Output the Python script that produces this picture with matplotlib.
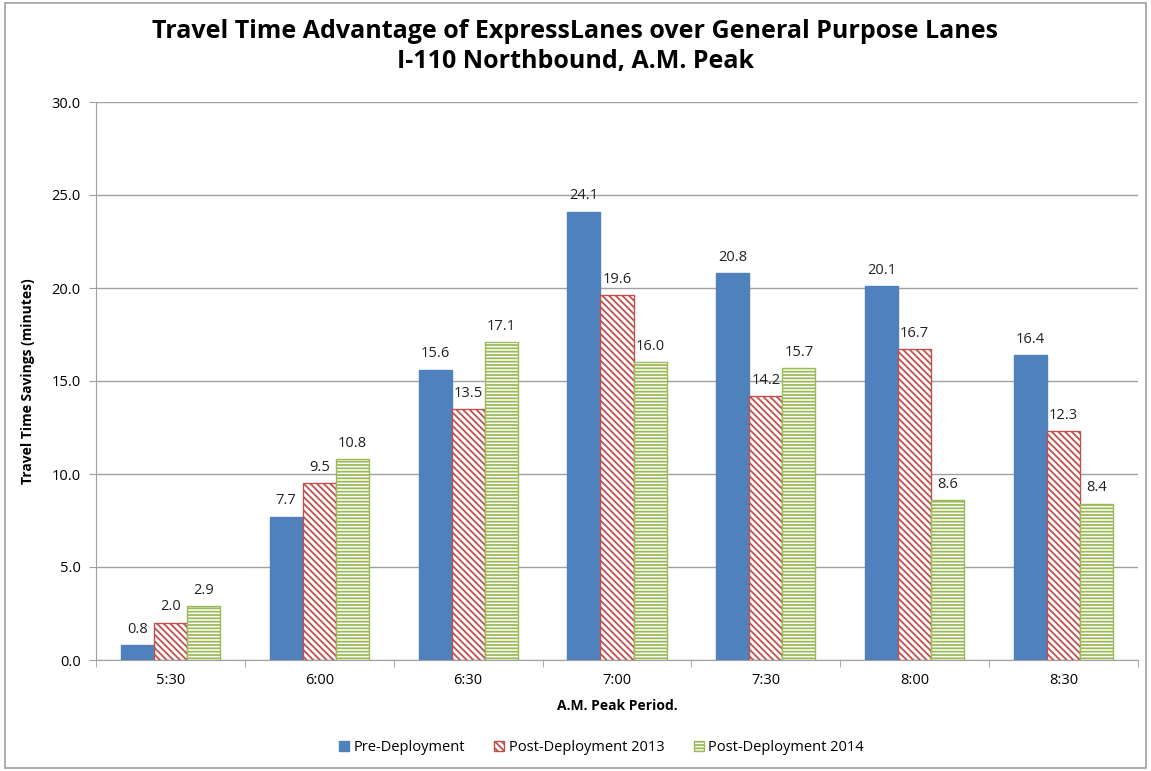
import numpy as np, matplotlib
matplotlib.use('Agg'); import matplotlib.pyplot as plt
from matplotlib.patches import Rectangle

periods = ['5:30', '6:00', '6:30', '7:00', '7:30', '8:00', '8:30']
pre_dep = [0.8, 7.7, 15.6, 24.1, 20.8, 20.1, 16.4]
post_2013 = [2.0, 9.5, 13.5, 19.6, 14.2, 16.7, 12.3]
post_2014 = [2.9, 10.8, 17.1, 16.0, 15.7, 8.6, 8.4]
labels = ['Pre-Deployment', 'Post-Deployment 2013', 'Post-Deployment 2014']

plt.rcParams['font.family'] = ['Open Sans', 'DejaVu Sans']
plt.rcParams['hatch.linewidth'] = 1.3

fig = plt.figure(figsize=(11.51, 7.71), dpi=100)
ax = fig.add_axes([96/1151, 1-660/771, 1042/1151, 558/771])
fig.patches.append(Rectangle((0.004, 0.004), 0.992, 0.992, transform=fig.transFigure,
                             fill=False, edgecolor='#a0a0a0', linewidth=1.2))

x = np.arange(len(periods)); w = 0.222
styles = [dict(color='#4F81BD', edgecolor='#4F81BD'),
          dict(facecolor='white', edgecolor='#C0504D', hatch='\\\\\\\\\\'),
          dict(facecolor='white', edgecolor='#9BBB59', hatch='-----')]
for i, (vals, lab, st) in enumerate(zip([pre_dep, post_2013, post_2014], labels, styles)):
    bars = ax.bar(x + (i-1)*w, vals, w, label=lab, linewidth=1.0, **st)
    for b, v in zip(bars, vals):
        ax.text(b.get_x()+b.get_width()/2, v+0.45, f'{v:.1f}', ha='center', va='bottom',
                fontsize=10.5, color='#222222')

ax.set_xlim(-0.5, len(periods)-0.5)
ax.set_ylim(0, 30)
ax.set_yticks(np.arange(0, 30.1, 5))
ax.set_yticklabels([f'{t:.1f}' for t in np.arange(0, 30.1, 5)], fontsize=10.5)
ax.set_xticks(x)
ax.set_xticklabels(periods, fontsize=10.5)
ax.set_xticks(np.arange(-0.5, len(periods), 1), minor=True)
ax.tick_params(axis='x', which='major', length=0, pad=9)
ax.tick_params(axis='x', which='minor', length=5, color='#a0a0a0')
ax.tick_params(axis='y', length=5, color='#a0a0a0', pad=6)
ax.grid(axis='y', color='#a0a0a0', linewidth=1.0)
ax.set_axisbelow(True)
for s in ['top', 'right']:
    ax.spines[s].set_visible(False)
for s in ['left', 'bottom']:
    ax.spines[s].set_color('#a0a0a0')

ax.set_ylabel('Travel Time Savings (minutes)', fontsize=10, fontweight='bold', labelpad=12)
ax.set_xlabel('A.M. Peak Period.', fontsize=10, fontweight='bold', labelpad=8)
fig.suptitle('Travel Time Advantage of ExpressLanes over General Purpose Lanes\nI-110 Northbound, A.M. Peak',
             fontsize=18, fontweight='bold', y=0.975, linespacing=1.25)
ax.legend(loc='upper center', bbox_to_anchor=(0.485, -0.12), ncol=3, frameon=False, fontsize=10.5,
          handlelength=0.7, handleheight=0.7, columnspacing=2.0, handletextpad=0.3)

plt.savefig('out.png', dpi=100)
print("saved")
